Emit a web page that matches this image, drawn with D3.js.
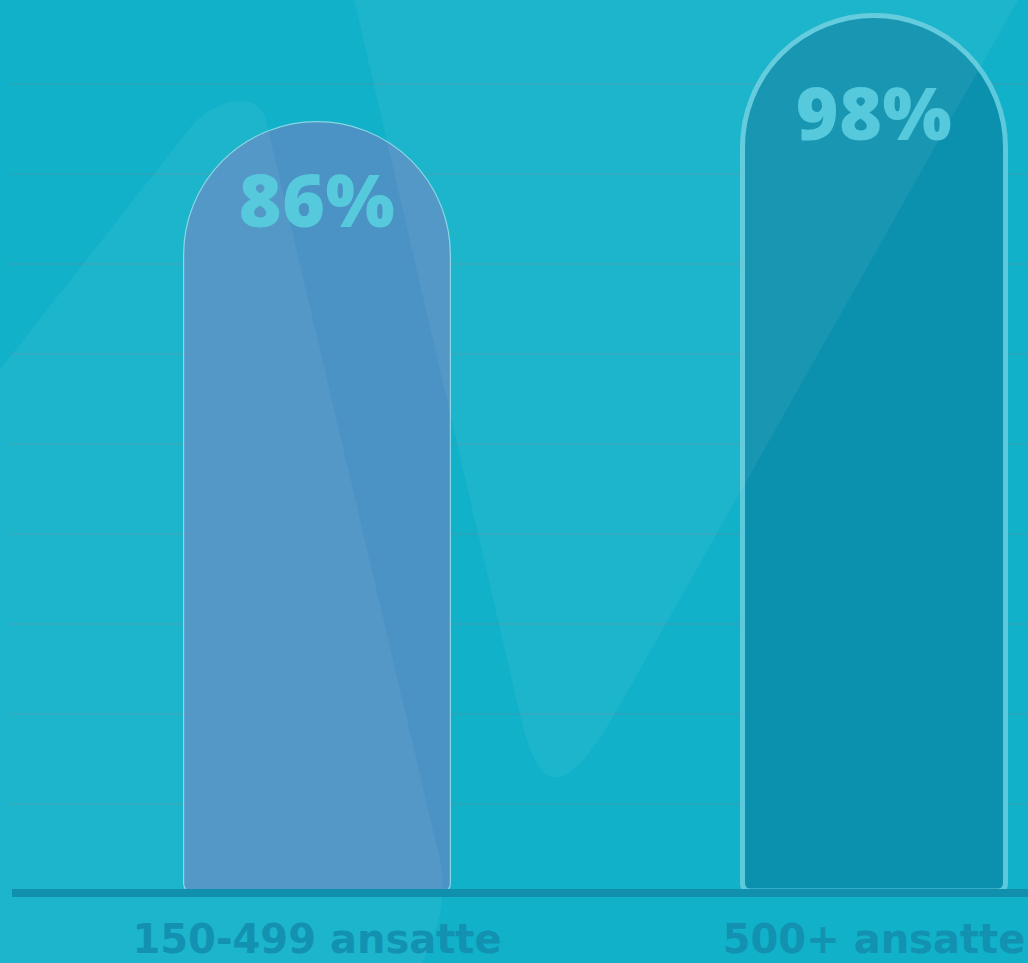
<!DOCTYPE html>
<html>
<head>
<meta charset="utf-8">
<script src="https://cdn.jsdelivr.net/npm/d3@7"></script>
<style>
  html, body { margin: 0; padding: 0; background: #10b1c9; }
  svg { display: block; }
</style>
</head>
<body>
<svg id="chart" width="1028" height="963"></svg>
<script>
// Share of companies, by company size
const categories = ["150-499 ansatte", "500+ ansatte"];
const values = [86, 98];
const valueLabels = ["86%", "98%"];
const gridTicks = [10, 20, 30, 40, 50, 60, 70, 80, 90];

const W = 1028, H = 963;
const svg = d3.select("#chart");

// value scale: 0 sits on the baseline, 10 points per grid step
const y = d3.scaleLinear().domain([0, 100]).range([894, -6]);
// value labels follow the bar tops on a gentler slope
const labelY = d3.scaleLinear().domain([0, 100]).range([850.5, 125.5]);
// bar centres
const x = d3.scalePoint().domain(categories).range([317, 874]);
const barW = 268;

const barStyle = [
  { fill: "#4a93c4", stroke: "#88d5e3", sw: 1.2 },
  { fill: "#0b90ae", stroke: "#5ccadc", sw: 5 }
];

// background
svg.append("rect").attr("width", W).attr("height", H).attr("fill", "#10b1c9");

// horizontal grid
svg.append("g")
  .selectAll("line")
  .data(gridTicks)
  .join("line")
  .attr("x1", 10).attr("x2", W)
  .attr("y1", d => y(d)).attr("y2", d => y(d))
  .attr("stroke", "#3a9db1")
  .attr("stroke-opacity", 0.65)
  .attr("stroke-width", 1.5);

// rounded-top bars
function barPath(cx, v, inset) {
  const x0 = cx - barW / 2 + inset, x1 = cx + barW / 2 - inset;
  const r = (x1 - x0) / 2;
  const yTop = y(v) + inset + 1;
  const yBot = y(0) - 3;
  const rb = 8;
  return `M${x0},${yBot - rb}` +
    `L${x0},${yTop + r}` +
    `A${r},${r} 0 0 1 ${x1},${yTop + r}` +
    `L${x1},${yBot - rb}` +
    `Q${x1},${yBot} ${x1 - rb},${yBot}` +
    `L${x0 + rb},${yBot}` +
    `Q${x0},${yBot} ${x0},${yBot - rb}Z`;
}

svg.append("g")
  .selectAll("path")
  .data(categories)
  .join("path")
  .attr("d", (c, i) => barPath(x(c), values[i], barStyle[i].sw / 2))
  .attr("fill", (c, i) => barStyle[i].fill)
  .attr("stroke", (c, i) => barStyle[i].stroke)
  .attr("stroke-width", (c, i) => barStyle[i].sw);

// soft light shapes sweeping across the plot
const glow = svg.append("g").attr("fill", "#ffffff").attr("fill-opacity", 0.055);
glow.append("path")
  .attr("d", "M353,-5 L520,715 C540,800 566,800 620,705 L1021,-5 Z");
glow.append("path")
  .attr("d", "M-5,376 L190,128 C214,98 259,90 266,120 L440,860 C448,895 440,930 416,975 L-5,975 Z");

// baseline
svg.append("rect")
  .attr("x", 12).attr("y", 889)
  .attr("width", W - 12).attr("height", 8)
  .attr("fill", "#1190ae");

// value labels inside the bar tops
svg.append("g")
  .selectAll("text")
  .data(categories)
  .join("text")
  .attr("x", c => x(c))
  .attr("y", (c, i) => labelY(values[i]))
  .attr("text-anchor", "middle")
  .attr("font-family", "'Open Sans', sans-serif")
  .attr("font-weight", 800)
  .attr("font-size", 73)
  .attr("letter-spacing", 0.5)
  .attr("fill", "#56c9dc")
  .text((c, i) => valueLabels[i]);

// category labels under the baseline
svg.append("g")
  .selectAll("text")
  .data(categories)
  .join("text")
  .attr("x", c => x(c))
  .attr("y", 953)
  .attr("text-anchor", "middle")
  .attr("font-family", "'DejaVu Sans', sans-serif")
  .attr("font-weight", "bold")
  .attr("font-size", 40)
  .attr("fill", "#1391b0")
  .text(c => c);
</script>
</body>
</html>
